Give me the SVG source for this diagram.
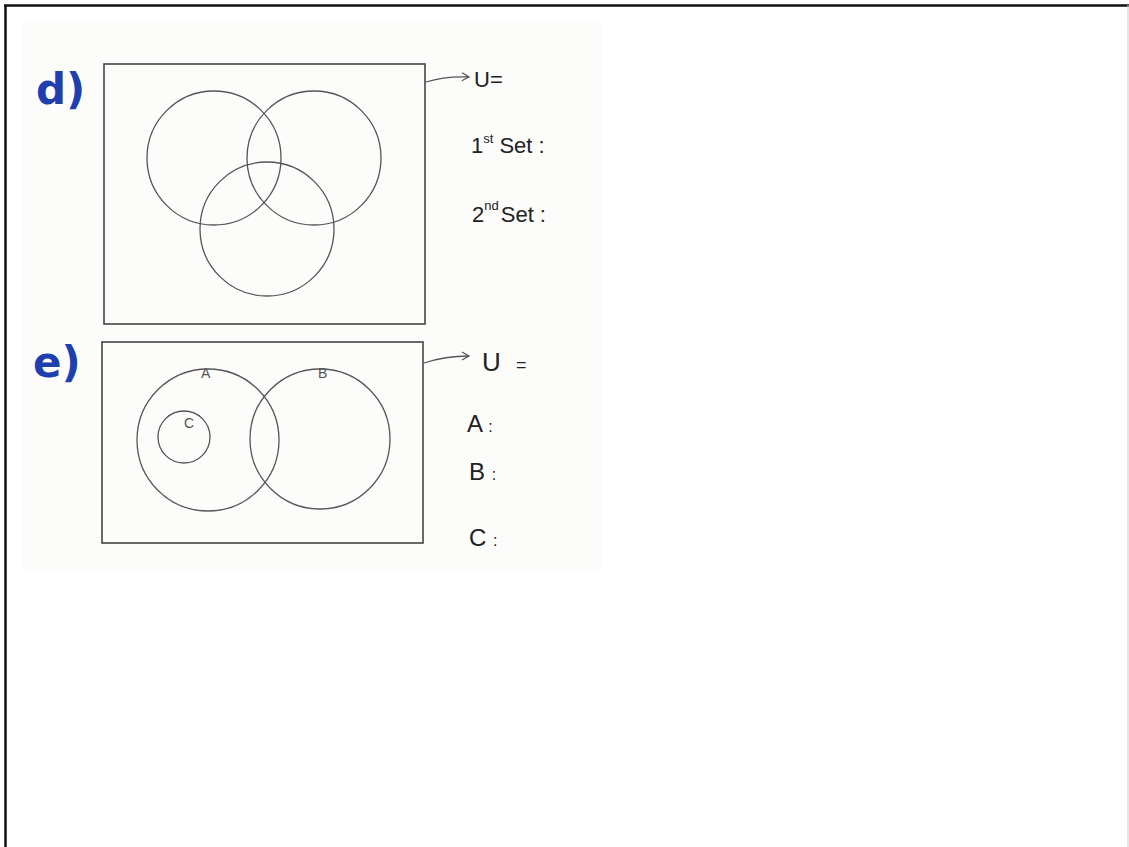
<svg xmlns="http://www.w3.org/2000/svg" width="1129" height="847" viewBox="0 0 1129 847">
<defs>
<style>
.ln{fill:none;stroke:#555;stroke-width:1.3}
.box{fill:none;stroke:#444;stroke-width:1.6}
.hw{font-family:"Liberation Sans",sans-serif;fill:#222}
.lbl{font-family:"DejaVu Sans",sans-serif;font-weight:bold;fill:#1f3fae;font-size:42px}
.small{font-family:"Liberation Sans",sans-serif;fill:#555;font-size:14px}
</style>
<marker id="ah" markerWidth="10" markerHeight="10" refX="8" refY="5" orient="auto" markerUnits="userSpaceOnUse">
<path d="M1,1 L8,5 L1,9" fill="none" stroke="#555" stroke-width="1.3"/>
</marker>
</defs>
<rect width="1129" height="847" fill="#fff"/>
<rect x="22" y="22" width="580" height="548" fill="#fcfcfb"/>
<line x1="4" y1="5.5" x2="1129" y2="5.5" stroke="#111" stroke-width="2.5"/>
<line x1="5.5" y1="5" x2="5.5" y2="847" stroke="#111" stroke-width="2.5"/>
<line x1="1128" y1="5" x2="1128" y2="847" stroke="#ccc" stroke-width="1"/>

<g id="d-label"><text class="lbl" x="36" y="104">d)</text></g>
<g id="d-universe">
<rect class="box" x="104" y="64" width="321" height="260" fill="#fff"/>
<circle class="ln" cx="214" cy="158" r="67"/>
<circle class="ln" cx="314" cy="158" r="67"/>
<circle class="ln" cx="267" cy="229" r="67"/>
</g>
<g id="d-text">
<text class="hw" x="474" y="87" font-size="22">U=</text>
<text class="hw" x="471" y="153" font-size="22">1<tspan font-size="13" dy="-10">st</tspan><tspan dy="10" dx="6">Set :</tspan></text>
<text class="hw" x="472" y="222" font-size="22">2<tspan font-size="13" dy="-12">nd</tspan><tspan dy="12" dx="2">Set :</tspan></text>
</g>

<g id="e-label"><text class="lbl" x="33" y="377">e)</text></g>
<g id="e-universe">
<rect class="box" x="102" y="342" width="321" height="201" fill="#fff"/>
<circle class="ln" cx="208" cy="440" r="71"/>
<circle class="ln" cx="320" cy="439" r="70"/>
<circle class="ln" cx="184" cy="437" r="26"/>
<text class="small" x="201" y="378">A</text>
<text class="small" x="318" y="378">B</text>
<text class="small" x="184" y="428">C</text>
</g>
<g id="e-text">
<text class="hw" x="482" y="371" font-size="26">U <tspan font-size="18" dx="8">=</tspan></text>
<text class="hw" x="467" y="432" font-size="24">A <tspan font-size="16">:</tspan></text>
<text class="hw" x="469" y="480" font-size="24">B <tspan font-size="16">:</tspan></text>
<text class="hw" x="469" y="546" font-size="24">C <tspan font-size="16">:</tspan></text>
</g>

<g id="connectors">
<path class="ln" d="M426,82 Q445,76 469,77" marker-end="url(#ah)"/>
<path class="ln" d="M424,363 Q445,356 469,356" marker-end="url(#ah)"/>
</g>
</svg>
